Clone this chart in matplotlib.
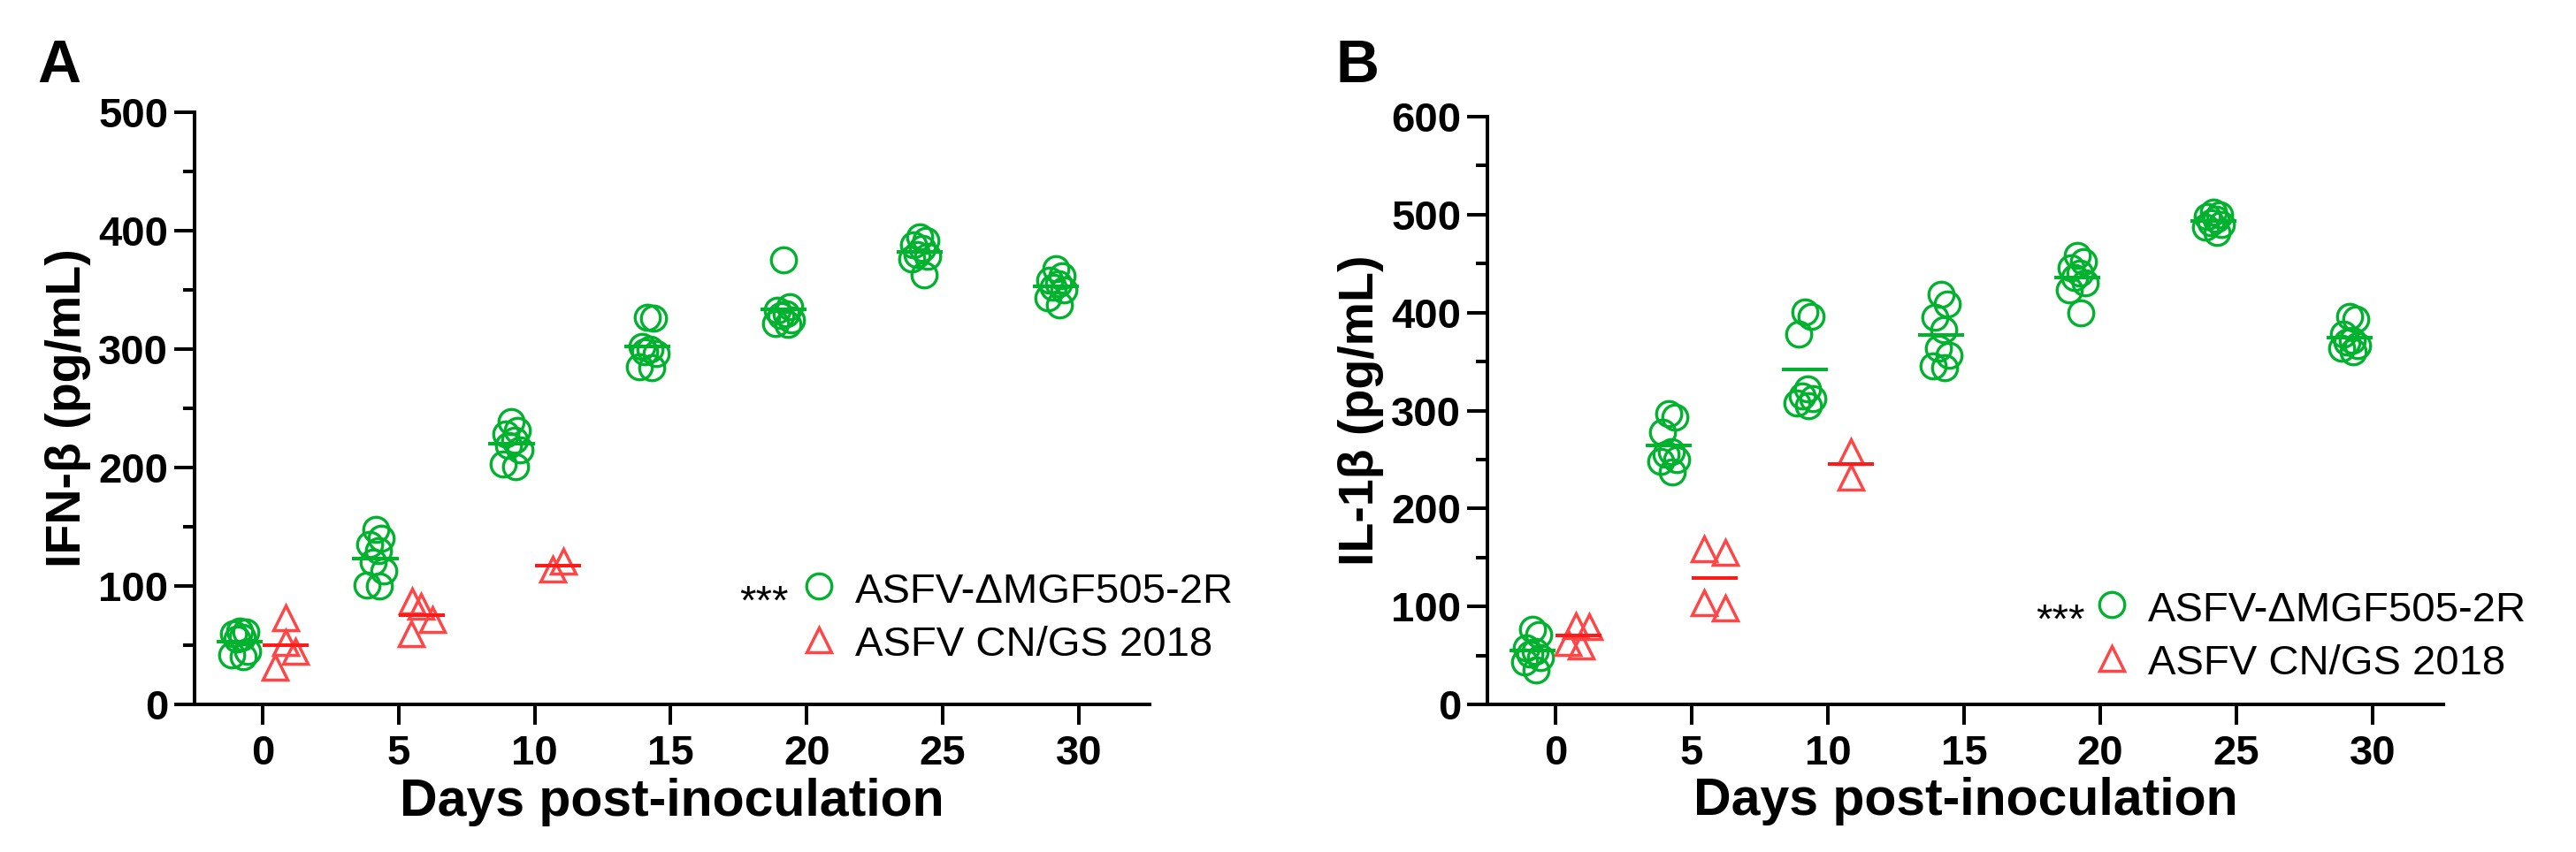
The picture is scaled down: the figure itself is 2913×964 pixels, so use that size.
import numpy as np
import matplotlib
matplotlib.use("Agg")
import matplotlib.pyplot as plt
from matplotlib.ticker import MultipleLocator

plt.rcParams['font.family'] = ['Liberation Sans', 'DejaVu Sans']

# ---------------- data ----------------
days = [0, 5, 10, 15, 20, 25, 30]
wt_days = [0, 5, 10]

ifn_mutant = [
    [62, 61, 60, 57, 55, 45, 42, 40],
    [148, 140, 135, 130, 120, 113, 101, 100],
    [239, 231, 228, 223, 219, 215, 203, 201],
    [327, 326, 302, 300, 298, 296, 285, 284],
    [375, 336, 333, 330, 328, 325, 322, 321],
    [395, 392, 388, 385, 380, 378, 376, 363],
    [368, 362, 358, 355, 352, 350, 343, 337],
]
ifn_wt = [
    [73, 52, 45, 31],
    [87, 83, 72, 60],
    [114, 121],
]

il_mutant = [
    [77, 71, 58, 54, 51, 48, 43, 35],
    [297, 293, 278, 258, 255, 250, 248, 237],
    [401, 396, 378, 322, 315, 312, 308, 305],
    [419, 409, 395, 383, 364, 356, 346, 344],
    [458, 452, 446, 440, 436, 430, 423, 400],
    [503, 500, 498, 495, 492, 490, 487, 482],
    [396, 393, 378, 372, 370, 366, 364, 360],
]
il_wt = [
    [80, 79, 63, 60],
    [159, 155, 104, 98],
    [258, 232],
]

series_names = ["ASFV-\u0394MGF505-2R", "ASFV CN/GS 2018"]
ylabels = ["IFN-\u03b2 (pg/mL)", "IL-1\u03b2 (pg/mL)"]
ymaxes = [500, 600]
panel_letters = ["A", "B"]
signif = "***"
xlabel = "Days post-inoculation"

# ---------------- style ----------------
GREEN = "#00B22D"
RED = "#FF4545"
RED_LINE = "#FF1A1A"
G_SHIFT, R_SHIFT = -0.85, 0.85
JIT8 = [0.0, 0.22, -0.22, 0.1, -0.1, 0.3, -0.3, 0.15]
# horizontal jitter (days) of the red groups, per panel
RED_JIT = {
    "A": [[0.0, 0.0, 0.35, -0.4], [-0.36, -0.04, 0.38, -0.4], [-0.2, 0.2]],
    "B": [[-0.1, 0.4, -0.4, 0.1], [-0.4, 0.4, -0.4, 0.4], [0.0, 0.0]],
}
W = 2913
H = 964

fig = plt.figure(figsize=(W / 100, H / 100), dpi=100)
axA = fig.add_axes([220 / W, 167 / H, 1080 / W, 670 / H])
axB = fig.add_axes([1682 / W, 167 / H, 1081 / W, 665 / H])


def draw(ax, mutant, wt, ymax, ylab, leg_y, lx, rjit):
    for d, vals in zip(days, mutant):
        xs = [d + G_SHIFT + j for j in JIT8[:len(vals)]]
        ax.plot(xs, vals, ls='none', marker='o', ms=20.5, mew=2.4,
                mfc='none', mec=GREEN, clip_on=False, zorder=3)
        ax.hlines(np.mean(vals), d + G_SHIFT - 0.85, d + G_SHIFT + 0.85,
                  color=GREEN, lw=2.9, zorder=4)
    for d, vals, off in zip(wt_days, wt, rjit):
        xs = [d + R_SHIFT + j for j in off]
        ax.plot(xs, vals, ls='none', marker='^', ms=19.5, mew=2.5,
                mfc='none', mec=RED, clip_on=False, zorder=3)
        ax.hlines(np.mean(vals), d + R_SHIFT - 0.85, d + R_SHIFT + 0.85,
                  color=RED_LINE, lw=2.9, zorder=4)

    ax.set_xlim(-2.5, 32.6)
    ax.set_ylim(0, ymax)
    ax.spines['top'].set_visible(False)
    ax.spines['right'].set_visible(False)
    for s in ('left', 'bottom'):
        ax.spines[s].set_linewidth(2.9)
    ax.set_xticks(days)
    ax.yaxis.set_major_locator(MultipleLocator(100))
    ax.yaxis.set_minor_locator(MultipleLocator(50))
    ax.tick_params(axis='both', which='major', length=16.5, width=2.9,
                   labelsize=34)
    ax.tick_params(axis='y', which='major', pad=5)
    ax.tick_params(axis='x', which='major', pad=8)
    ax.tick_params(axis='y', which='minor', length=9.4, width=2.9)
    for lab in ax.get_xticklabels() + ax.get_yticklabels():
        lab.set_fontweight('bold')
    ax.set_ylabel(ylab, fontsize=40, fontweight='bold')
    ax.yaxis.set_label_coords(-0.108, 0.5)
    ax.set_xlabel(xlabel, fontsize=42.5, fontweight='bold', va='top')
    ax.xaxis.set_label_coords(0.5, -0.124)

    # legend (manual)
    y1, y2, b1, b2, ab = leg_y
    ax.plot([lx[0]], [y1], transform=ax.transAxes, ls='none', marker='o',
            ms=20.5, mew=2.4, mfc='none', mec=GREEN, clip_on=False)
    ax.plot([lx[0]], [y2], transform=ax.transAxes, ls='none', marker='^',
            ms=19.5, mew=2.5, mfc='none', mec=RED, clip_on=False)
    ax.text(lx[1], b1, series_names[0], transform=ax.transAxes,
            fontsize=34, va='baseline', ha='left')
    ax.text(lx[1], b2, series_names[1], transform=ax.transAxes,
            fontsize=34, va='baseline', ha='left')
    ax.text(lx[2], ab, signif, transform=ax.transAxes,
            fontsize=34, va='baseline', ha='right')


draw(axA, ifn_mutant, ifn_wt, ymaxes[0], ylabels[0],
     (0.200, 0.109, 0.172, 0.082, 0.152), (0.654, 0.692, 0.622), RED_JIT["A"])
draw(axB, il_mutant, il_wt, ymaxes[1], ylabels[1],
     (0.170, 0.078, 0.141, 0.051, 0.122), (0.653, 0.691, 0.625), RED_JIT["B"])

fig.text(42 / W, 1 - 43 / H, panel_letters[0], fontsize=49,
         fontweight='bold', va='top', ha='left')
fig.text(1510 / W, 1 - 43 / H, panel_letters[1], fontsize=49,
         fontweight='bold', va='top', ha='left')

fig.savefig("out.png", dpi=100, facecolor='white')
